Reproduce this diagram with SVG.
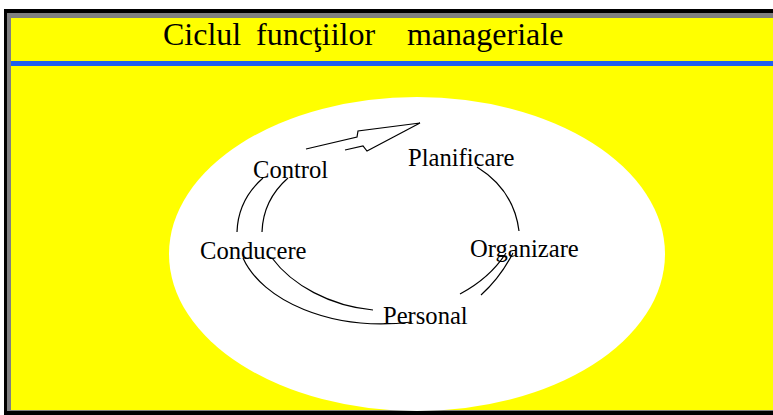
<svg xmlns="http://www.w3.org/2000/svg" width="773" height="415" viewBox="0 0 773 415">
<style>
.lbl{font-family:"Liberation Serif","Times New Roman",serif;font-size:24.6px;fill:#000}
.ttl{font-family:"Liberation Serif","Times New Roman",serif;font-size:32px;fill:#000}
.ln{fill:none;stroke:#000;stroke-width:1.2}
</style>
<rect x="0" y="0" width="773" height="415" fill="#fff"/>
<g id="frame">
<rect x="4" y="9" width="800" height="410" fill="#000"/>
<rect x="7" y="13" width="800" height="398" fill="#808080"/>
<rect x="11" y="18" width="800" height="392" fill="#ffff00"/>
<rect x="11" y="61" width="800" height="5" fill="#1f5ff0"/>
</g>
<g id="title">
<text class="ttl" y="45"><tspan x="163">Ciclul</tspan><tspan x="256">funcţiilor</tspan><tspan x="407">manageriale</tspan></text>
</g>
<ellipse id="oval" cx="417" cy="254" rx="248" ry="157" fill="#fff"/>
<g id="connectors">
<path class="ln" d="M306,149 L357,137 L358,131 L420,123 L367,151 L363,146 L345,150"/>
<path class="ln" d="M263,178 Q238,200 237,232"/>
<path class="ln" d="M288,178 Q263,200 262,232"/>
<path class="ln" d="M243,258 C262,300 330,332 412,322"/>
<path class="ln" d="M272,258 C292,285 330,306 373,310"/>
<path class="ln" d="M477,167 Q514,190 519,231"/>
<path class="ln" d="M506,253 Q490,278 460,294"/>
<path class="ln" d="M513,253 Q500,278 481,295"/>
</g>
<g id="node-control"><text class="lbl" x="253" y="178">Control</text></g>
<g id="node-planificare"><text class="lbl" x="408" y="166">Planificare</text></g>
<g id="node-conducere"><text class="lbl" x="200" y="259">Conducere</text></g>
<g id="node-organizare"><text class="lbl" x="470" y="257">Organizare</text></g>
<g id="node-personal"><text class="lbl" x="383" y="324">Personal</text></g>
</svg>
